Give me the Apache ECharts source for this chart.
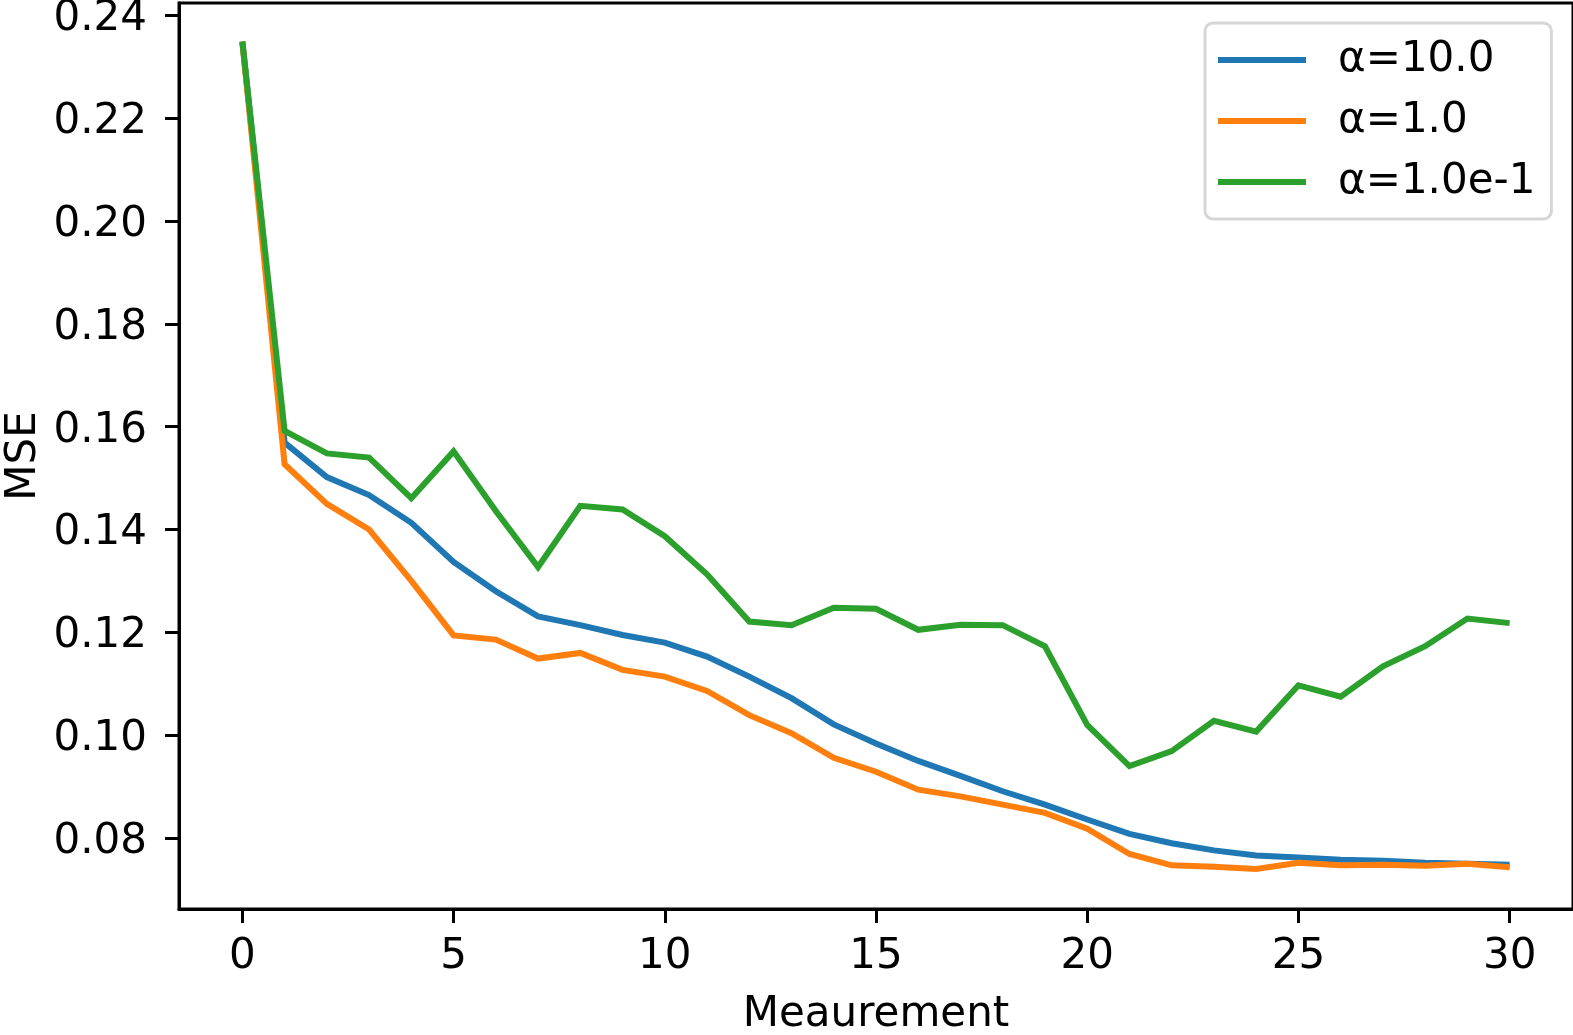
<!DOCTYPE html>
<html>
<head>
<meta charset="utf-8">
<script src="https://cdn.jsdelivr.net/npm/echarts@6/dist/echarts.min.js"></script>
<style>
html,body{margin:0;padding:0;background:#fff;}
#chart{width:1573px;height:1035px;}
</style>
</head>
<body>
<div id="chart"></div>
<script>
const measurements = [0,1,2,3,4,5,6,7,8,9,10,11,12,13,14,15,16,17,18,19,20,21,22,23,24,25,26,27,28,29,30];
const seriesNames = ['α=10.0', 'α=1.0', 'α=1.0e-1'];
const alpha10 = [0.2349, 0.1569, 0.1502, 0.1467, 0.1413, 0.1337, 0.1280, 0.1231, 0.1214, 0.1195, 0.1180, 0.1153, 0.1114, 0.1072, 0.1021, 0.0984, 0.0950, 0.0921, 0.0891, 0.0865, 0.0836, 0.0808, 0.0790, 0.0776, 0.0766, 0.0762, 0.0758, 0.0756, 0.0752, 0.0750, 0.0748];
const alpha1 = [0.2349, 0.1527, 0.1450, 0.1400, 0.1300, 0.1194, 0.1186, 0.1149, 0.1160, 0.1127, 0.1114, 0.1086, 0.1039, 0.1004, 0.0956, 0.0929, 0.0894, 0.0881, 0.0865, 0.0849, 0.0818, 0.0769, 0.0747, 0.0744, 0.0740, 0.0752, 0.0747, 0.0748, 0.0746, 0.0750, 0.0743];
const alpha01 = [0.2349, 0.1592, 0.1548, 0.1540, 0.1461, 0.1552, 0.1436, 0.1327, 0.1446, 0.1439, 0.1387, 0.1313, 0.1221, 0.1214, 0.1248, 0.1246, 0.1205, 0.1215, 0.1214, 0.1173, 0.1020, 0.0940, 0.0969, 0.1028, 0.1007, 0.1097, 0.1075, 0.1134, 0.1173, 0.1227, 0.1218];
const xTicks = [0,5,10,15,20,25,30];
const yTicks = [0.08,0.10,0.12,0.14,0.16,0.18,0.20,0.22,0.24];
const colors = ['#1f77b4', '#ff7f0e', '#2ca02c'];

const FONT = 'DejaVu Sans';
const FS = 42;
const chart = echarts.init(document.getElementById('chart'), null, {renderer: 'canvas'});
const allData = [alpha10, alpha1, alpha01];
const series = allData.map((vals, i) => ({
  name: seriesNames[i],
  type: 'line',
  data: measurements.map((m, j) => [m, vals[j]]),
  showSymbol: false,
  symbol: 'none',
  lineStyle: {color: colors[i], width: 6, cap: 'butt', join: 'miter'},
  itemStyle: {color: colors[i]},
  animation: false
}));

chart.setOption({
  animation: false,
  backgroundColor: '#fff',
  grid: {left: 179, right: 0, top: 3, bottom: 126, outerBoundsMode: 'none', containLabel: false, show: true, borderColor: '#000', borderWidth: 3, backgroundColor: 'transparent'},
  legend: {
    orient: 'vertical',
    left: 1205, top: 23,
    padding: [16, 16, 16, 13],
    itemWidth: 88, itemHeight: 6,
    itemGap: 19,
    icon: 'rect',
    backgroundColor: '#fff',
    borderColor: '#d6d6d6', borderWidth: 3, borderRadius: 8,
    textStyle: {fontFamily: FONT, fontSize: FS, color: '#000', padding: [0, 0, 0, 27], lineHeight: 42},
    data: seriesNames
  },
  xAxis: {
    type: 'value',
    min: -1.5, max: 31.5,
    name: 'Meaurement', nameLocation: 'middle', nameGap: 85, nameMoveOverlap: false,
    nameTextStyle: {fontFamily: FONT, fontSize: FS, color: '#000'},
    axisLine: {show: true, onZero: false, lineStyle: {color: '#000', width: 3}},
    axisTick: {show: true, length: 14, inside: false, lineStyle: {color: '#000', width: 3}, customValues: xTicks},
    axisLabel: {fontFamily: FONT, fontSize: FS, color: '#000', margin: 27, customValues: xTicks, formatter: v => String(v)},
    splitLine: {show: false}
  },
  yAxis: {
    type: 'value',
    min: 0.0662, max: 0.2424,
    name: 'MSE', nameLocation: 'middle', nameGap: 134, nameRotate: 90, nameMoveOverlap: false,
    nameTextStyle: {fontFamily: FONT, fontSize: FS, color: '#000'},
    axisLine: {show: true, onZero: false, lineStyle: {color: '#000', width: 3}},
    axisTick: {show: true, length: 14, lineStyle: {color: '#000', width: 3}, customValues: yTicks},
    axisLabel: {
      fontFamily: FONT, fontSize: FS, color: '#000', margin: 32, customValues: yTicks,
      formatter: v => '{v|' + v.toFixed(2) + '}',
      rich: {v: {fontFamily: FONT, fontSize: FS, color: '#000', padding: [8, 0, 0, 0], lineHeight: 42}}
    },
    splitLine: {show: false}
  },
  series: series
});
</script>
</body>
</html>
